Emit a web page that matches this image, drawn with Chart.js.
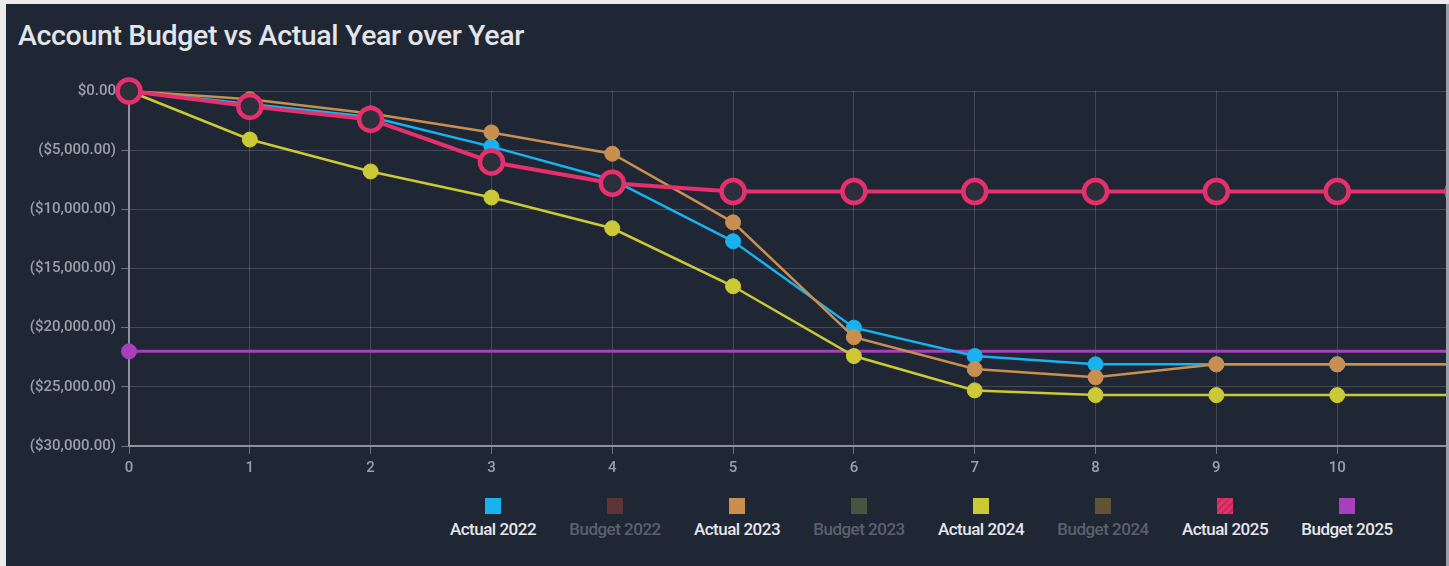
<!DOCTYPE html>
<html>
<head>
<meta charset="utf-8">
<script src="https://cdn.jsdelivr.net/npm/chart.js@4/dist/chart.umd.min.js"></script>
<style>
  html, body { margin: 0; padding: 0; background: #ececec; overflow: hidden; }
  body { width: 1449px; height: 566px; position: relative; font-family: Roboto, "Noto Sans", sans-serif; }
  #panel {
    position: absolute; left: 6px; top: 4px; width: 1440px; height: 562px;
    background: #1f2735; overflow: hidden; border-right: 3px solid #9aa0a8;
  }
  #title {
    position: absolute; left: 12px; top: 15px; color: #e3e5e9;
    font-size: 28.5px; font-weight: 500; letter-spacing: -0.35px;
  }
  #wrap { position: absolute; left: 0; top: 66px; width: 1470px; height: 406px; }
  #legend { position: absolute; left: 426px; top: 494px; display: flex; }
  .item { width: 122px; text-align: center; }
  .box { width: 16px; height: 16px; margin: 0 auto 5px auto; }
  .lbl { font-size: 17px; font-weight: 500; letter-spacing: -0.5px; color: #e6e7ea; }
  .off .lbl { color: #5a616d; }
</style>
</head>
<body>
<div id="panel">
  <div id="title">Account Budget vs Actual Year over Year</div>
  <div id="wrap"><canvas id="chart" width="1470" height="406"></canvas></div>
  <div id="legend"></div>
</div>
<script>
const periods = ['0', '1', '2', '3', '4', '5', '6', '7', '8', '9', '10', '11'];

const actual2022 = [0, -1100, -2200, -4700, -7500, -12700, -20000, -22400, -23100, -23100, -23100, -23100];
const actual2023 = [0, -700, -1900, -3500, -5300, -11100, -20800, -23500, -24200, -23100, -23100, -23100];
const actual2024 = [0, -4100, -6800, -9000, -11600, -16500, -22400, -25300, -25700, -25700, -25700, -25700];
const actual2025 = [0, -1300, -2400, -6000, -7800, -8500, -8500, -8500, -8500, -8500, -8500, -8500];
const budget2025 = [-22000, -22000, -22000, -22000, -22000, -22000, -22000, -22000, -22000, -22000, -22000, -22000];

const seriesNames = ['Actual 2022', 'Budget 2022', 'Actual 2023', 'Budget 2023', 'Actual 2024', 'Budget 2024', 'Actual 2025', 'Budget 2025'];
const seriesColors = ['#19b2f0', '#5e3439', '#c98f50', '#465540', '#cbc935', '#5f5533', '#e6306d', '#a93fbd'];

function money(v) {
    if (v === 0) return '$0.00';
    const s = '$' + Math.abs(v).toLocaleString('en-US', { minimumFractionDigits: 2, maximumFractionDigits: 2 });
    return v < 0 ? '(' + s + ')' : s;
}

function lineSet(i, data, order) {
    return {
        label: seriesNames[i],
        data: data,
        borderColor: seriesColors[i],
        backgroundColor: seriesColors[i],
        pointBackgroundColor: seriesColors[i],
        pointBorderColor: seriesColors[i],
        borderWidth: 2.5,
        pointRadius: 7.5,
        pointBorderWidth: 1,
        tension: 0,
        clip: false,
        order: order
    };
}

const datasets = [
    lineSet(0, actual2022, 4),
    Object.assign(lineSet(1, [], 9), { hidden: true }),
    lineSet(2, actual2023, 3),
    Object.assign(lineSet(3, [], 9), { hidden: true }),
    lineSet(4, actual2024, 2),
    Object.assign(lineSet(5, [], 9), { hidden: true }),
    Object.assign(lineSet(6, actual2025, 1), {
        borderWidth: 4, pointRadius: 11.5, pointBorderWidth: 4.5,
        pointBackgroundColor: '#2d2f3b'
    }),
    Object.assign(lineSet(7, budget2025, 5), {
        borderWidth: 3,
        pointRadius: budget2025.map((v, i) => i === 0 ? 7.5 : 0)
    })
];

const tickFont = { family: 'Roboto', size: 15, weight: '500' };

new Chart(document.getElementById('chart').getContext('2d'), {
    type: 'line',
    data: { labels: periods, datasets: datasets },
    options: {
        responsive: false,
        animation: false,
        layout: { padding: { top: 21, right: 18, left: 0, bottom: 0 } },
        plugins: { legend: { display: false }, tooltip: { enabled: false } },
        scales: {
            x: {
                offset: false,
                grid: { color: 'rgba(255,255,255,0.16)', tickLength: 8, tickColor: 'rgba(255,255,255,0.35)' },
                border: { color: '#8d929b', width: 2 },
                ticks: { color: '#9aa0aa', font: tickFont, padding: 5, maxRotation: 0 },
                afterFit: s => { s.height = 30; }
            },
            y: {
                min: -30000,
                max: 0,
                grid: { color: 'rgba(255,255,255,0.16)', tickLength: 8, tickColor: 'rgba(255,255,255,0.35)' },
                border: { color: '#8d929b', width: 2 },
                ticks: { stepSize: 5000, color: '#9aa0aa', font: tickFont, padding: 5, callback: v => money(v) },
                afterFit: s => { s.width = 123; }
            }
        }
    }
});

const legend = document.getElementById('legend');
seriesNames.forEach((name, i) => {
    const item = document.createElement('div');
    item.className = 'item' + (datasets[i].hidden ? ' off' : '');
    const box = document.createElement('div');
    box.className = 'box';
    box.style.background = seriesColors[i];
    if (name === 'Actual 2025') {
        box.style.background = 'repeating-linear-gradient(135deg, #e6306d 0 3px, #c52a5f 3px 5px)';
    }
    const lbl = document.createElement('div');
    lbl.className = 'lbl';
    lbl.textContent = name;
    item.appendChild(box);
    item.appendChild(lbl);
    legend.appendChild(item);
});
</script>
</body>
</html>
